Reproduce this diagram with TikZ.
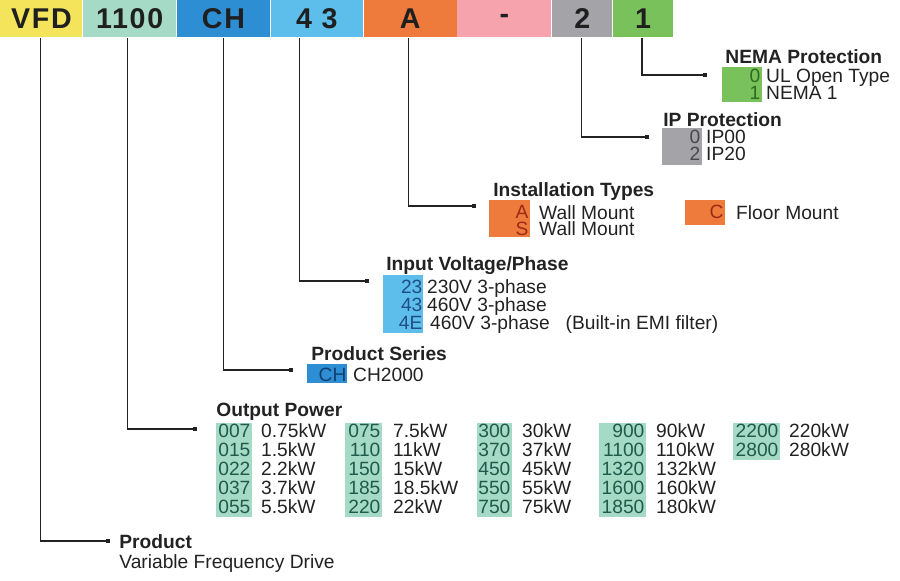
\documentclass[tikz,border=0pt]{standalone}
\usepackage{fontspec}
\setmainfont{Liberation Sans}
\usepackage{xcolor}
\usetikzlibrary{positioning}

\definecolor{vfdyellow}{HTML}{F4E45B}
\definecolor{powteal}{HTML}{A5DAC6}
\definecolor{serblue}{HTML}{2D8ED3}
\definecolor{voltblue}{HTML}{5DBEEC}
\definecolor{mountorange}{HTML}{EE7B3B}
\definecolor{dashpink}{HTML}{F6A3AE}
\definecolor{ipgray}{HTML}{A3A3A8}
\definecolor{nemagreen}{HTML}{79C15B}
\definecolor{nematext}{HTML}{2E6B1E}
\definecolor{iptext}{HTML}{48484D}
\definecolor{mounttext}{HTML}{9B2B18}
\definecolor{volttext}{HTML}{1E4E85}
\definecolor{sertext}{HTML}{123F6F}
\definecolor{powtext}{HTML}{1F5B4B}
\definecolor{inktext}{HTML}{222222}

\newcommand{\rowfont}[1]{\fontsize{9.6}{#1}\selectfont\lineskiplimit=-10pt\relax}

\begin{document}
\begin{tikzpicture}[
        x=0.5pt, y=-0.5pt, text=inktext,
        seg/.style={rectangle, inner sep=0pt, minimum height=18.5pt, text=black!88, font=\fontsize{14.3}{14.3}\selectfont\bfseries\addfontfeatures{LetterSpace=6}},
        head/.style={anchor=base west, inner sep=0pt, font=\fontsize{9.6}{11}\selectfont\bfseries},
        codebox/.style={rectangle, inner sep=0pt, anchor=north west},
        codes/.style={anchor=north east, inner sep=0pt, align=right},
        rowtext/.style={anchor=north west, inner sep=0pt, align=left},
        dotmark/.style={rectangle, fill=inktext, inner sep=0pt, minimum size=2pt},
        wire/.style={line width=0.6pt, draw=inktext}
    ]
        \useasboundingbox (0,0) rectangle (900,580);
        % model code bar
        \node[seg, fill=vfdyellow, minimum width=41pt, anchor=north west] (vfd) at (0,0) {VFD};
        \node[seg, fill=powteal, minimum width=46.5pt, right=0pt of vfd] (power) {1100};
        \node[seg, fill=serblue, minimum width=46.5pt, right=0pt of power] (series) {CH};
        \node[seg, fill=voltblue, minimum width=46pt, right=0pt of series] (voltage) {4 3};
        \node[seg, fill=mountorange, minimum width=46.5pt, right=0pt of voltage] (mount) {A};
        \node[seg, fill=dashpink, minimum width=47pt, right=0pt of mount] (dash) {-};
        \node[seg, fill=ipgray, minimum width=30pt, right=0pt of dash] (ipcode) {2};
        \node[seg, fill=nemagreen, minimum width=30pt, right=0pt of ipcode] (nemacode) {1};

        % NEMA protection
        \node[head] (nemahead) at (725,63) {NEMA Protection};
        \node[codebox, fill=nemagreen, minimum width=20pt, minimum height=17.5pt] (nemabox) at (722,67) {};
        \node[codes, text=nematext, font=\rowfont{8.2pt}] (nemacodes) at ([xshift=-1pt, yshift=-1pt]nemabox.north east) {0\\1};
        \node[rowtext, font=\rowfont{8.2pt}] (nemalist) at ([xshift=2.5pt]nemacodes.north east) {UL Open Type\\NEMA 1};

        % IP protection
        \node[head] (iphead) at (663,126) {IP Protection};
        \node[codebox, fill=ipgray, minimum width=20pt, minimum height=18.5pt] (ipbox) at (662,128) {};
        \node[codes, text=iptext, font=\rowfont{8.5pt}] (ipcodes) at ([xshift=-1pt, yshift=-0.8pt]ipbox.north east) {0\\2};
        \node[rowtext, font=\rowfont{8.5pt}] (iplist) at ([xshift=2.5pt]ipcodes.north east) {IP00\\IP20};

        % installation types
        \node[head] (mounthead) at (493,196) {Installation Types};
        \node[codebox, fill=mountorange, minimum width=20.5pt, minimum height=18.5pt] (mountbox) at (489,200) {};
        \node[codes, text=mounttext, font=\rowfont{8.2pt}] (mountcodes) at ([xshift=-1pt, yshift=-2.5pt]mountbox.north east) {A\\S};
        \node[rowtext, font=\rowfont{8.2pt}] (mountlist) at ([xshift=5pt]mountcodes.north east) {Wall Mount\\Wall Mount};
        \node[codebox, fill=mountorange, minimum width=20pt, minimum height=12.5pt] (floorbox) at (685,200) {};
        \node[codes, text=mounttext, font=\rowfont{8.2pt}] (floorcode) at ([xshift=-1pt, yshift=-2.5pt]floorbox.north east) {C};
        \node[rowtext, font=\rowfont{8.2pt}] (floorlist) at ([xshift=6pt]floorcode.north east) {Floor Mount};

        % input voltage
        \node[head] (volthead) at (386,270) {Input Voltage/Phase};
        \node[codebox, fill=voltblue, minimum width=20pt, minimum height=29pt] (voltbox) at (383,275) {};
        \node[codes, text=volttext, font=\rowfont{9pt}] (voltcodes) at ([xshift=-0.5pt, yshift=-2.1pt]voltbox.north east) {23\\43\\4E};
        \node[rowtext, font=\rowfont{9pt}] (voltlist) at ([xshift=2pt]voltcodes.north east) {230V 3-phase\\460V 3-phase\\\hspace{1.5pt}460V 3-phase\hspace{8pt}(Built-in EMI filter)};

        % product series
        \node[head] (serhead) at (311,360) {Product Series};
        \node[codebox, fill=serblue, minimum width=20pt, minimum height=9.5pt] (serbox) at (307,364) {};
        \node[codes, text=sertext, font=\rowfont{9pt}] (sercode) at ([xshift=-0.5pt, yshift=-1.6pt]serbox.north east) {CH};
        \node[rowtext, font=\rowfont{9pt}] (serlist) at ([xshift=3pt]sercode.north east) {CH2000};

        % output power
        \node[head] (powhead) at (216,416) {Output Power};
        \node[codebox, fill=powteal, minimum width=18pt, minimum height=47pt] (powboxa) at (216,423) {};
        \node[codes, text=powtext, font=\rowfont{9.5pt}] (powcodesa) at ([xshift=-1pt, yshift=-0.1pt]powboxa.north east) {007\\015\\022\\037\\055};
        \node[rowtext, font=\rowfont{9.5pt}] (powlista) at ([xshift=5pt]powcodesa.north east) {0.75kW\\1.5kW\\2.2kW\\3.7kW\\5.5kW};
        \node[codebox, fill=powteal, minimum width=18.5pt, minimum height=47pt] (powboxb) at (345,423) {};
        \node[codes, text=powtext, font=\rowfont{9.5pt}] (powcodesb) at ([xshift=-1pt, yshift=-0.1pt]powboxb.north east) {075\\110\\150\\185\\220};
        \node[rowtext, font=\rowfont{9.5pt}] (powlistb) at ([xshift=6pt]powcodesb.north east) {7.5kW\\11kW\\15kW\\18.5kW\\22kW};
        \node[codebox, fill=powteal, minimum width=17.5pt, minimum height=47pt] (powboxc) at (477,423) {};
        \node[codes, text=powtext, font=\rowfont{9.5pt}] (powcodesc) at ([xshift=-1pt, yshift=-0.1pt]powboxc.north east) {300\\370\\450\\550\\750};
        \node[rowtext, font=\rowfont{9.5pt}] (powlistc) at ([xshift=5.5pt]powcodesc.north east) {30kW\\37kW\\45kW\\55kW\\75kW};
        \node[codebox, fill=powteal, minimum width=23.5pt, minimum height=47pt] (powboxd) at (599,423) {};
        \node[codes, text=powtext, font=\rowfont{9.5pt}] (powcodesd) at ([xshift=-1pt, yshift=-0.1pt]powboxd.north east) {900\\1100\\1320\\1600\\1850};
        \node[rowtext, font=\rowfont{9.5pt}] (powlistd) at ([xshift=5.5pt]powcodesd.north east) {90kW\\110kW\\132kW\\160kW\\180kW};
        \node[codebox, fill=powteal, minimum width=23.5pt, minimum height=18.5pt] (powboxe) at (733,423) {};
        \node[codes, text=powtext, font=\rowfont{9.5pt}] (powcodese) at ([xshift=-1pt, yshift=-0.1pt]powboxe.north east) {2200\\2800};
        \node[rowtext, font=\rowfont{9.5pt}] (powliste) at ([xshift=5pt]powcodese.north east) {220kW\\280kW};

        % product
        \node[head] (prodhead) at (119,548) {Product};
        \node[anchor=base west, inner sep=0pt, font=\rowfont{11pt}] (prodname) at (119,568) {Variable Frequency Drive};

        % leader lines
        \node[dotmark] (nemadot) at (705,75) {};
        \node[dotmark] (ipdot) at (647,137) {};
        \node[dotmark] (mountdot) at (474,206) {};
        \node[dotmark] (voltdot) at (367,281) {};
        \node[dotmark] (serdot) at (291,370) {};
        \node[dotmark] (powdot) at (195,429) {};
        \node[dotmark] (proddot) at (108,541) {};
        \draw[wire] ([xshift=-0.5pt]nemacode.south) |- (nemadot);
        \draw[wire] ([xshift=-0.5pt]ipcode.south) |- (ipdot);
        \draw[wire] ([xshift=-0.75pt]mount.south) |- (mountdot);
        \draw[wire] ([xshift=-8.5pt]voltage.south) |- (voltdot);
        \draw[wire] (series.south) |- (serdot);
        \draw[wire] ([xshift=-1.25pt]power.south) |- (powdot);
        \draw[wire] ([xshift=-0.5pt]vfd.south) |- (proddot);
    \end{tikzpicture}
\end{document}
